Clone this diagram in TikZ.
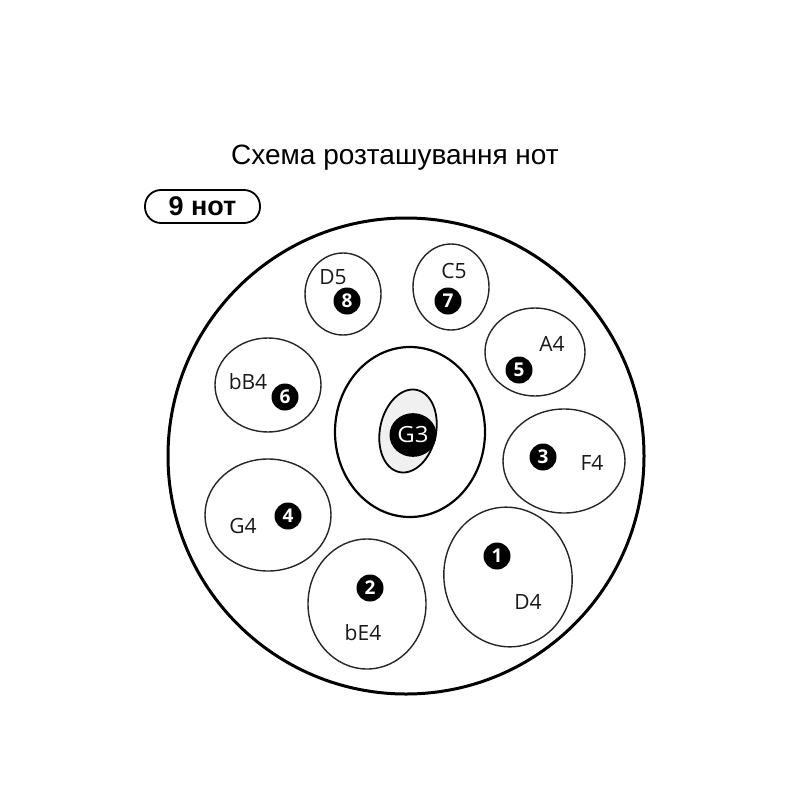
\documentclass[tikz,border=0pt]{standalone}
\usepackage{fontspec}
\setmainfont{Liberation Sans}
\newfontfamily\lblfont{Open Sans}
\begin{document}
\begin{tikzpicture}[x=1pt,y=-1pt,
  pad/.style={draw=black!85,line width=1.4pt},
  num/.style={circle,fill=black,inner sep=0pt,minimum size=27pt,text=white,font=\lblfont\fontsize{19}{19}\selectfont\bfseries},
  lbl/.style={font=\lblfont\fontsize{21}{21}\selectfont,text=black!90,inner sep=0pt}]
\useasboundingbox (0,0) rectangle (800,800);
\fill[white] (0,0) rectangle (800,800);
\node[font=\fontsize{28}{28}\selectfont] (title) at (395,158) {Схема розташування нот};
\node[draw,line width=1.8pt,rounded corners=16pt,minimum width=115pt,minimum height=33pt,inner sep=0pt,font=\fontsize{27}{27}\selectfont\bfseries] (badge) at (202.5,206.5) {9 нот};
% shell
\draw[line width=3pt] (406,456) circle[radius=238];
% center
\draw[line width=2.2pt] (410,432) ellipse[x radius=75,y radius=85];
\draw[line width=1.8pt,fill=black!6,rotate around={-12:(408,431)}] (408,431) ellipse[x radius=28,y radius=42];
\node[circle,fill=black,inner sep=0pt,minimum width=47pt,text=white,font=\lblfont\fontsize{24}{24}\selectfont,yscale=0.93] (g3) at (413,435) {G3};
% tone fields
\draw[pad] (343,294) ellipse[x radius=38,y radius=41];
\node[lbl] (d5) at (333,277) {D5};
\node[num] (n8) at (347,301) {8};
\draw[pad] (451,287) ellipse[x radius=38,y radius=43];
\node[lbl] (c5) at (454,271) {C5};
\node[num] (n7) at (448,301) {7};
\draw[pad] (535,352) ellipse[x radius=50,y radius=44];
\node[lbl] (a4) at (552,344) {A4};
\node[num] (n5) at (519,370) {5};
\draw[pad] (268,385) ellipse[x radius=53,y radius=47];
\node[lbl] (bb4) at (248,382) {bB4};
\node[num] (n6) at (285,397) {6};
\draw[pad] (564,461) ellipse[x radius=61,y radius=52];
\node[lbl] (f4) at (592,463) {F4};
\node[num] (n3) at (543,457) {3};
\draw[pad] (268,515) ellipse[x radius=63,y radius=56];
\node[lbl] (g4) at (243,526) {G4};
\node[num] (n4) at (288,516) {4};
\draw[pad] (367,604) ellipse[x radius=59,y radius=65];
\node[lbl] (be4) at (363,633) {bE4};
\node[num] (n2) at (370,588) {2};
\draw[pad,rotate around={10:(508,577)}] (508,577) ellipse[x radius=64,y radius=70];
\node[lbl] (d4) at (528,602) {D4};
\node[num] (n1) at (497,556) {1};
\end{tikzpicture}
\end{document}
